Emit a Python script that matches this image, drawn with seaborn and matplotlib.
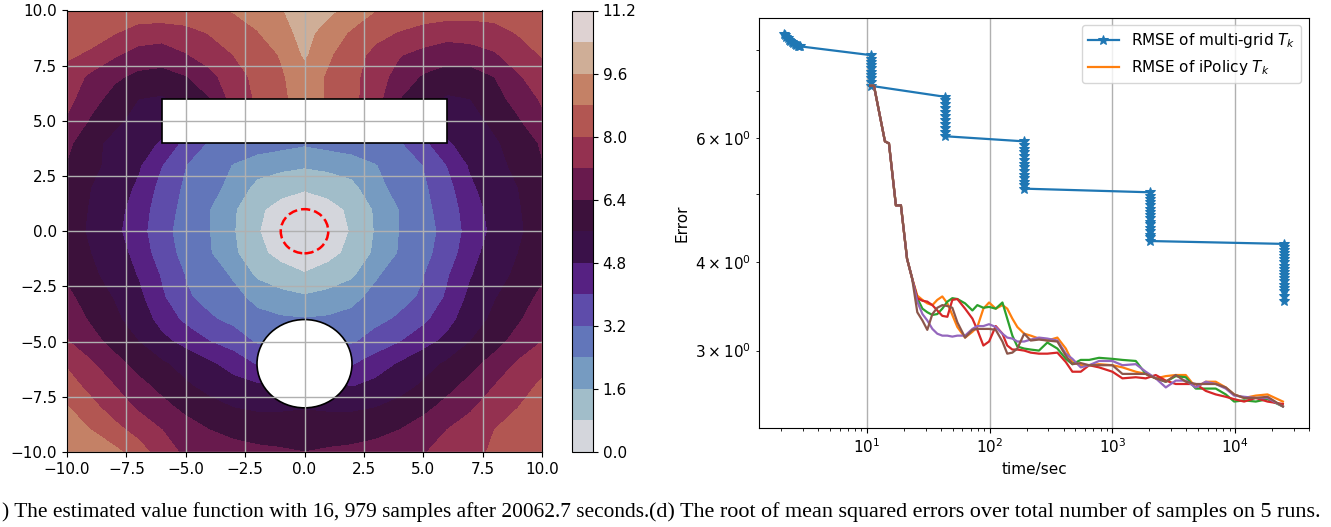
import numpy as np
import matplotlib
matplotlib.use('Agg')
import matplotlib.pyplot as plt
import seaborn as sns
from matplotlib.patches import Circle, Rectangle

W, H = 1331, 527

# value function, rows run from y=10 down to y=-10
grid_x = [-10, -9, -8, -7, -6, -5, -4, -3, -2, -1, 0, 1, 2, 3, 4, 5, 6, 7, 8, 9, 10]
grid_y = [10, 9, 8, 7, 6, 5, 4, 3, 2, 1, 0, -1, -2, -3, -4, -5, -6, -7, -8, -9, -10]
value_rows = [
    [8.4, 8.4, 8.45, 8.5, 8.55, 8.6, 8.65, 8.85, 9.15, 9.5, 10.2, 9.8, 9.25, 8.8, 8.6, 8.45, 8.4, 8.35, 8.3, 8.3, 8.3],
    [8.2, 8.25, 8.05, 7.65, 7.55, 7.7, 8.05, 8.35, 8.75, 9.25, 9.9, 9.2, 8.7, 8.25, 7.95, 7.7, 7.5, 7.55, 7.75, 8.05, 8.3],
    [8.1, 7.9, 7.3, 6.9, 6.8, 7.15, 7.55, 8.0, 8.4, 8.85, 9.7, 8.9, 8.35, 7.75, 7.25, 6.95, 6.75, 6.85, 7.1, 7.65, 8.05],
    [7.75, 7.0, 6.55, 6.2, 6.1, 6.35, 6.95, 7.65, 8.2, 8.7, 9.2, 8.7, 8.2, 7.6, 6.85, 6.3, 6.0, 6.0, 6.4, 7.1, 7.65],
    [7.45, 6.7, 6.1, 5.6, 5.5, 5.9, 6.35, 7.5, 8.1, 8.7, 9.0, 8.75, 8.2, 7.5, 6.4, 5.9, 5.5, 5.6, 6.1, 6.7, 7.3],
    [7.1, 6.3, 5.75, 5.35, 5.1, 5.0, 5.0, 5.0, 5.0, 5.0, 5.0, 5.0, 5.0, 5.0, 5.0, 5.0, 5.1, 5.35, 5.75, 6.3, 7.0],
    [6.6, 5.8, 5.4, 5.1, 4.7, 3.7, 3.1, 2.95, 2.8, 2.65, 2.5, 2.65, 2.8, 2.95, 3.1, 3.75, 4.7, 5.1, 5.5, 5.9, 6.5],
    [6.35, 5.75, 5.4, 4.9, 4.0, 3.2, 2.85, 2.35, 2.0, 1.85, 1.7, 1.85, 2.0, 2.35, 2.85, 3.2, 4.0, 4.9, 5.4, 5.75, 6.35],
    [6.1, 5.6, 5.25, 4.65, 3.7, 3.05, 2.65, 2.15, 1.35, 1.0, 0.88, 1.0, 1.35, 2.15, 2.65, 3.05, 3.7, 4.65, 5.25, 5.6, 6.1],
    [5.9, 5.55, 5.1, 4.4, 3.55, 2.95, 2.4, 1.7, 0.9, 0.6, 0.4, 0.6, 0.9, 1.7, 2.4, 2.95, 3.55, 4.4, 5.1, 5.55, 5.9],
    [5.9, 5.5, 5.0, 4.3, 3.45, 2.85, 2.4, 1.65, 0.85, 0.4, 0.1, 0.4, 0.85, 1.65, 2.4, 2.85, 3.45, 4.3, 5.0, 5.5, 5.9],
    [6.0, 5.6, 5.2, 4.5, 3.55, 2.95, 2.45, 1.75, 0.95, 0.62, 0.45, 0.62, 0.95, 1.75, 2.45, 2.95, 3.55, 4.5, 5.2, 5.6, 6.0],
    [6.25, 5.75, 5.3, 4.75, 3.9, 3.15, 2.75, 2.3, 1.45, 1.05, 0.85, 1.05, 1.45, 2.3, 2.75, 3.15, 3.9, 4.75, 5.3, 5.75, 6.25],
    [6.6, 6.0, 5.55, 5.0, 4.1, 3.3, 2.95, 2.6, 2.2, 1.9, 1.7, 1.9, 2.2, 2.6, 2.95, 3.3, 4.1, 5.0, 5.55, 6.0, 6.6],
    [6.9, 6.3, 5.75, 5.25, 4.5, 3.8, 3.3, 3.0, 2.6, 2.5, 2.45, 2.5, 2.6, 3.0, 3.3, 3.8, 4.5, 5.25, 5.75, 6.3, 6.9],
    [7.25, 6.7, 6.1, 5.6, 5.0, 4.55, 4.0, 3.6, 3.1, 3.1, 3.0, 3.1, 3.1, 3.5, 3.95, 4.5, 5.0, 5.6, 6.1, 6.7, 7.2],
    [7.9, 7.3, 6.7, 6.1, 5.7, 5.3, 4.9, 4.5, 3.9, 4.0, 4.0, 4.0, 3.9, 4.4, 4.85, 5.3, 5.7, 6.15, 6.7, 7.3, 7.8],
    [8.35, 7.75, 7.2, 6.65, 6.15, 5.7, 5.35, 5.05, 4.9, 5.0, 5.0, 5.0, 4.75, 5.0, 5.3, 5.7, 6.15, 6.65, 7.2, 7.75, 8.1],
    [8.85, 8.25, 7.65, 7.1, 6.65, 6.2, 5.85, 5.6, 5.5, 5.5, 5.55, 5.5, 5.5, 5.6, 5.85, 6.2, 6.65, 7.1, 7.65, 8.0, 8.45],
    [9.3, 8.8, 8.25, 7.7, 7.2, 6.75, 6.4, 6.1, 6.0, 6.0, 6.1, 6.0, 6.0, 6.1, 6.4, 6.75, 7.2, 7.6, 8.0, 8.45, 8.6],
    [9.5, 9.2, 9.0, 8.4, 7.55, 7.05, 7.0, 6.8, 6.6, 6.5, 6.4, 6.5, 6.6, 6.8, 7.0, 7.15, 7.45, 7.9, 8.05, 8.4, 8.7],
]
levels = [0.0, 0.8, 1.6, 2.4, 3.2, 4.0, 4.8, 5.6, 6.4, 7.2, 8.0, 8.8, 9.6, 10.4, 11.2]
cbar_ticks = [0.0, 1.6, 3.2, 4.8, 6.4, 8.0, 9.6, 11.2]
axis_ticks = [-10.0, -7.5, -5.0, -2.5, 0.0, 2.5, 5.0, 7.5, 10.0]

# multi-grid RMSE, stage by stage
mg_time = [2.1, 2.15, 2.2, 2.25, 2.3, 2.38, 2.45, 2.5, 2.58, 2.65, 2.72, 2.8, 2.85,
           10.8, 10.8, 10.8, 10.8, 10.8, 10.8, 10.8, 10.8, 10.8, 10.8,
           43.2, 43.2, 43.2, 43.2, 43.2, 43.2, 43.2, 43.2, 43.2, 43.2, 43.2,
           190.6, 190.6, 190.6, 190.6, 190.6, 190.6, 190.6, 190.6, 190.6, 190.6, 190.6, 190.6, 190.6, 190.6,
           2025, 2025, 2025, 2025, 2025, 2025, 2025, 2025, 2025, 2025, 2025, 2025, 2025, 2025, 2025, 2025,
           25000, 25000, 25000, 25000, 25000, 25000, 25000, 25000, 25000, 25000, 25000, 25000, 25000, 25000, 25000, 25000, 25000, 25000]
mg_err = [8.44, 8.41, 8.36, 8.32, 8.28, 8.24, 8.21, 8.18, 8.16, 8.14, 8.12, 8.11, 8.1,
          7.87, 7.78, 7.7, 7.62, 7.54, 7.46, 7.38, 7.3, 7.2, 7.12,
          6.87, 6.79, 6.7, 6.62, 6.54, 6.46, 6.36, 6.28, 6.2, 6.12, 6.04,
          5.94, 5.87, 5.8, 5.73, 5.66, 5.59, 5.52, 5.46, 5.39, 5.33, 5.27, 5.21, 5.15, 5.09,
          5.03, 4.97, 4.92, 4.87, 4.82, 4.77, 4.72, 4.67, 4.62, 4.57, 4.53, 4.48, 4.43, 4.38, 4.34, 4.29,
          4.25, 4.21, 4.16, 4.12, 4.08, 4.04, 4.0, 3.96, 3.92, 3.88, 3.84, 3.8, 3.76, 3.72, 3.68, 3.64, 3.58, 3.53]

# iPolicy RMSE, five runs sampled on one time axis
run_time = [10.6, 11.4, 14.0, 15.1, 17.2, 18.9, 21.2, 23.3,
            25.7, 28.3, 31.0, 34.1, 37.4, 41.1, 45.2, 49.6, 54.5, 63.0, 72.3, 79.3, 88.8, 98.8,
            112, 127, 139, 153, 168, 191, 216, 252, 295, 356, 417, 472, 552, 646, 778, 1000,
            1207, 1551, 1870, 2255, 2723, 3283, 3960, 4777, 5768, 6950, 8390, 9817, 11840, 14730, 18360, 24500]
head_err = [7.12, 7.12, 5.94, 5.90, 4.82, 4.82, 4.05, 3.80]
run_orange = [3.59, 3.54, 3.50, 3.48, 3.54, 3.58, 3.50, 3.37, 3.24, 3.13, 3.19, 3.24, 3.44, 3.51, 3.44, 3.48, 3.44, 3.33, 3.24, 3.17, 3.15, 3.12, 3.10, 3.13, 3.02, 2.89, 2.86, 2.86, 2.87, 2.86, 2.84, 2.80, 2.78, 2.74, 2.76, 2.77, 2.77, 2.66, 2.71, 2.71, 2.66, 2.60, 2.57, 2.59, 2.60, 2.54]
run_green = [3.56, 3.44, 3.40, 3.37, 3.38, 3.44, 3.52, 3.56, 3.55, 3.50, 3.42, 3.48, 3.45, 3.46, 3.44, 3.51, 3.33, 3.15, 3.04, 3.02, 3.01, 3.00, 3.08, 3.02, 2.92, 2.87, 2.91, 2.91, 2.93, 2.92, 2.91, 2.90, 2.78, 2.74, 2.71, 2.76, 2.75, 2.65, 2.65, 2.65, 2.60, 2.54, 2.55, 2.54, 2.56, 2.50]
run_red = [3.56, 3.53, 3.52, 3.48, 3.42, 3.36, 3.35, 3.54, 3.55, 3.44, 3.33, 3.21, 3.05, 3.09, 3.25, 3.17, 3.05, 3.01, 3.01, 3.00, 2.98, 2.97, 2.97, 2.98, 2.89, 2.80, 2.80, 2.86, 2.84, 2.80, 2.74, 2.75, 2.74, 2.77, 2.72, 2.69, 2.69, 2.69, 2.63, 2.60, 2.58, 2.56, 2.54, 2.57, 2.54, 2.52]
run_purple = [3.52, 3.38, 3.31, 3.22, 3.17, 3.15, 3.15, 3.14, 3.15, 3.15, 3.22, 3.25, 3.25, 3.27, 3.24, 3.17, 3.13, 3.12, 3.09, 3.09, 3.11, 3.13, 3.12, 3.10, 2.97, 2.92, 2.84, 2.86, 2.90, 2.90, 2.86, 2.87, 2.80, 2.74, 2.66, 2.72, 2.72, 2.66, 2.71, 2.69, 2.65, 2.59, 2.58, 2.57, 2.57, 2.50]
run_brown = [3.40, 3.31, 3.21, 3.38, 3.45, 3.48, 3.47, 3.45, 3.29, 3.13, 3.21, 3.22, 3.22, 3.22, 3.21, 3.09, 2.97, 2.98, 3.02, 3.17, 3.10, 3.11, 3.10, 3.09, 2.95, 2.87, 2.88, 2.86, 2.86, 2.86, 2.78, 2.78, 2.78, 2.74, 2.71, 2.77, 2.71, 2.69, 2.69, 2.69, 2.66, 2.60, 2.57, 2.57, 2.58, 2.50]

caption_left = ') The estimated value function with 16, 979 samples after 20062.7 seconds.'
caption_right = '(d) The root of mean squared errors over total number of samples on 5 runs.'


def px_axes(fig, left, top, right, bottom):
    return fig.add_axes([left / W, 1 - bottom / H, (right - left) / W, (bottom - top) / H])


fig = plt.figure(figsize=(W / 100, H / 100), dpi=100)

#Contour panel
ax = px_axes(fig, 67, 10.5, 542, 452)
cax = px_axes(fig, 572, 10.5, 593, 452)

cs = ax.contourf(grid_x, grid_y, np.array(value_rows), levels=levels, cmap='twilight')
ax.add_patch(Rectangle((-6, 4), 12, 2, facecolor='white', edgecolor='black', lw=1.2, zorder=1.2))
ax.add_patch(Circle((0, -6), 2, facecolor='white', edgecolor='black', lw=1.2, zorder=1.2))
ax.add_patch(Circle((0, 0), 1, fill=False, edgecolor='red', ls='--', lw=1.8, zorder=3))
ax.set_xticks(axis_ticks)
ax.set_yticks(axis_ticks)
ax.set_xlim(-10, 10)
ax.set_ylim(-10, 10)
ax.tick_params(labelsize=11)
ax.grid(True, color='#b0b0b0', lw=1.0)

cbar = fig.colorbar(cs, cax=cax, ticks=cbar_ticks)
cbar.ax.tick_params(labelsize=11)

#Error panel
ax2 = px_axes(fig, 759, 17.5, 1309, 428)
sns.lineplot(x=mg_time, y=mg_err, ax=ax2, color='C0', marker='*', markersize=7, markeredgecolor='C0',
             lw=1.6, estimator=None, sort=False, label='RMSE of multi-grid $T_k$')
sns.lineplot(x=run_time, y=head_err + run_orange, ax=ax2, color='C1', lw=1.6, estimator=None, sort=False,
             label='RMSE of iPolicy $T_k$')
sns.lineplot(x=run_time, y=head_err + run_green, ax=ax2, color='C2', lw=1.6, estimator=None, sort=False)
sns.lineplot(x=run_time, y=head_err + run_red, ax=ax2, color='C3', lw=1.6, estimator=None, sort=False)
sns.lineplot(x=run_time, y=head_err + run_purple, ax=ax2, color='C4', lw=1.6, estimator=None, sort=False)
sns.lineplot(x=run_time, y=head_err + run_brown, ax=ax2, color='C5', lw=1.6, estimator=None, sort=False)
ax2.set_xscale('log')
ax2.set_yscale('log')
ax2.set_xlim(1.318, 40000)
ax2.set_ylim(2.33, 8.9)
ax2.grid(True, axis='x', which='major', color='#b0b0b0', lw=1.0)
ax2.set_xlabel('time/sec', fontsize=11)
ax2.set_ylabel('Error', fontsize=11)
ax2.tick_params(which='both', labelsize=11)
ax2.legend(loc='upper right', fontsize=11)

fig.text(2 / W, 1 - 512 / H, caption_left, family='Liberation Serif', fontsize=15.4, va='center', ha='left')
fig.text(649 / W, 1 - 512 / H, caption_right, family='Liberation Serif', fontsize=15.9, va='center', ha='left')

plt.savefig('out.png', dpi=100)
